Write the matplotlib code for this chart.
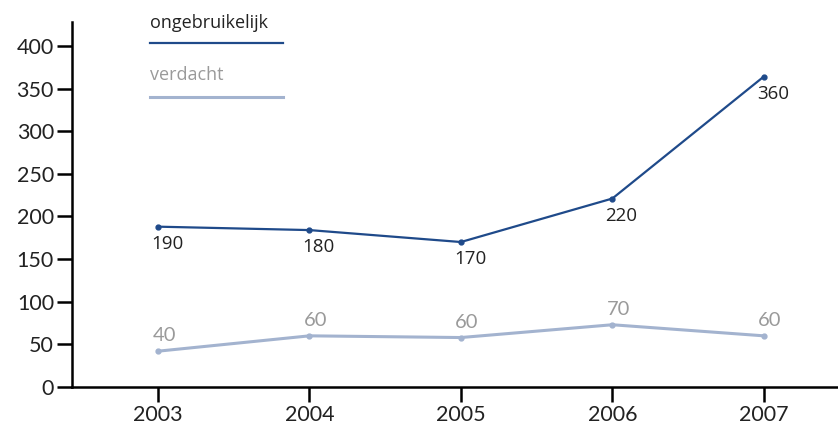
import matplotlib
matplotlib.use('Agg')
import matplotlib.pyplot as plt
from matplotlib.lines import Line2D

years = ['2003', '2004', '2005', '2006', '2007']
ongebruikelijk = [188, 184, 170, 221, 364]
ongebruikelijk_labels = ['190', '180', '170', '220', '360']
verdacht = [42, 60, 58, 73, 60]
verdacht_labels = ['40', '60', '60', '70', '60']
yticks = [0, 50, 100, 150, 200, 250, 300, 350, 400]

dark = '#1f4a8a'
light = '#a3b3cf'
grey = '#9a9a9a'
thin = dict(family=['Lato', 'DejaVu Sans'], weight='normal')

fig = plt.figure(figsize=(8.38, 4.30), dpi=100)
ax = fig.add_axes([72/838, 43/430, 1 - 72/838, (387 - 22)/430])

x = range(len(years))
ax.plot(x, ongebruikelijk, color=dark, lw=1.6, marker='o', ms=3.5)
ax.plot(x, verdacht, color=light, lw=2.2, marker='o', ms=3.5)

for i, (v, t) in enumerate(zip(ongebruikelijk, ongebruikelijk_labels)):
    ax.annotate(t, (i, v), xytext=(-5, -6), textcoords='offset points',
                ha='left', va='top', fontsize=13.5, color='#222222',
                family=['Open Sans', 'DejaVu Sans'])
for i, (v, t) in enumerate(zip(verdacht, verdacht_labels)):
    ax.annotate(t, (i, v), xytext=(-4, 5), textcoords='offset points',
                ha='left', va='bottom', fontsize=14.5, color=grey, **thin)

ax.set_xlim(-0.568, 4.49)
ax.set_ylim(0, 428)
ax.set_xticks(list(x))
ax.set_xticklabels(years)
ax.set_yticks(yticks)

for s in ['top', 'right']:
    ax.spines[s].set_visible(False)
for s in ['left', 'bottom']:
    ax.spines[s].set_linewidth(1.8)
ax.tick_params(axis='both', length=11, width=1.8, labelsize=15.5, pad=2,
               labelcolor='#222222')
for lab in ax.get_xticklabels() + ax.get_yticklabels():
    lab.set_family(thin['family'])
    lab.set_weight('normal')

# legend drawn by hand: text above a line
fig.text(150/838, 1 - 28/430, 'ongebruikelijk', fontsize=13, color='#222222',
         family=['Open Sans', 'DejaVu Sans'], va='baseline')
fig.add_artist(Line2D([150/838, 283/838], [1 - 43/430, 1 - 43/430],
                      color=dark, lw=1.6))
fig.text(150/838, 1 - 80/430, 'verdacht', fontsize=13, color=grey,
         family=['Open Sans', 'DejaVu Sans'], va='baseline')
fig.add_artist(Line2D([150/838, 283/838], [1 - 97/430, 1 - 97/430],
                      color=light, lw=2.2))

plt.savefig('out.png', dpi=100)
